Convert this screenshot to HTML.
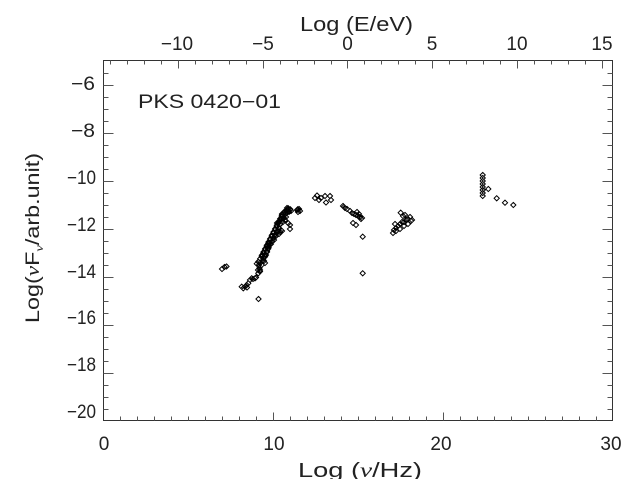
<!DOCTYPE html>
<html>
<head>
<meta charset="utf-8">
<style>
  html,body{margin:0;padding:0;background:#fff;}
  svg{display:block;}
  text{font-family:"Liberation Sans","DejaVu Sans",sans-serif;fill:#222;}
</style>
</head>
<body>
<svg id="s" width="633" height="479" viewBox="0 0 633 479" xmlns="http://www.w3.org/2000/svg">
  <rect width="633" height="479" fill="#fff"/>
  <g id="axes" stroke="#333" stroke-width="1" fill="none" shape-rendering="crispEdges">
    <rect x="103.5" y="60.5" width="509" height="360"/>
  </g>
  <g id="ticks" stroke="#555" stroke-width="1" shape-rendering="crispEdges"></g>
  <g id="pts" stroke="#000" stroke-width="1" fill="none"></g>

  <!-- left tick labels -->
  <g font-size="19" text-anchor="end">
    <text x="95" y="90" textLength="24" lengthAdjust="spacingAndGlyphs">−6</text>
    <text x="95" y="137" textLength="24" lengthAdjust="spacingAndGlyphs">−8</text>
    <text x="96" y="184" textLength="29" lengthAdjust="spacingAndGlyphs">−10</text>
    <text x="96" y="231" textLength="29" lengthAdjust="spacingAndGlyphs">−12</text>
    <text x="96" y="278" textLength="29" lengthAdjust="spacingAndGlyphs">−14</text>
    <text x="96" y="324" textLength="29" lengthAdjust="spacingAndGlyphs">−16</text>
    <text x="96" y="371" textLength="29" lengthAdjust="spacingAndGlyphs">−18</text>
    <text x="96" y="418" textLength="29" lengthAdjust="spacingAndGlyphs">−20</text>
  </g>

  <!-- bottom tick labels -->
  <g font-size="19" text-anchor="middle">
    <text x="104" y="450">0</text>
    <text x="274" y="450">10</text>
    <text x="441" y="450">20</text>
    <text x="611" y="450">30</text>
  </g>

  <!-- top tick labels -->
  <g font-size="19" text-anchor="middle">
    <text x="177" y="50">−10</text>
    <text x="263" y="50">−5</text>
    <text x="347.5" y="50">0</text>
    <text x="432" y="50">5</text>
    <text x="517" y="50">10</text>
    <text x="602" y="50">15</text>
  </g>

  <!-- axis titles -->
  <text x="300" y="31" font-size="20" textLength="113" lengthAdjust="spacingAndGlyphs">Log (E/eV)</text>
  <text x="298" y="477" font-size="20" textLength="124" lengthAdjust="spacingAndGlyphs">Log (<tspan font-style="italic" font-family="Liberation Serif">ν</tspan>/Hz)</text>
  <text x="138" y="108" font-size="19" textLength="143" lengthAdjust="spacingAndGlyphs">PKS 0420−01</text>
  <text transform="translate(39,323) rotate(-90)" x="0" y="0" font-size="19" textLength="170" lengthAdjust="spacingAndGlyphs">Log(<tspan font-style="italic" font-family="Liberation Serif">ν</tspan>F<tspan font-size="12" dy="4" font-style="italic" font-family="Liberation Serif">ν</tspan><tspan dy="-4">/arb.unit)</tspan></text>
</svg>
<script>
(function(){
  var NS="http://www.w3.org/2000/svg";
  var tg=document.getElementById("ticks");
  function line(x1,y1,x2,y2){
    var l=document.createElementNS(NS,"line");
    l.setAttribute("x1",x1);l.setAttribute("y1",y1);
    l.setAttribute("x2",x2);l.setAttribute("y2",y2);
    tg.appendChild(l);
  }
  var X0=103.5,X1=612.5,Y0=60.5,Y1=420.5;
  var sx=(X1-X0)/30;
  for(var i=1;i<30;i++){
    var x=Math.round(X0+i*sx)+0.5;
    var len=(i%10===0)?8:4;
    line(x,Y1,x,Y1-len);
  }
  for(var e=-14;e<=15;e++){
    var nu=e+14.38;
    if(nu<=0||nu>=30) continue;
    var x=Math.round(X0+nu*sx)+0.5;
    var len=(e%5===0)?8:4;
    line(x,Y0,x,Y0+len);
  }
  var sy=(Y1-Y0)/15;
  for(var k=1;k<30;k++){
    var v=-20+k*0.5;
    var y=Math.round(Y1-k*0.5*sy)+0.5;
    var major=(Math.abs(v%2)<1e-6);
    var len=major?10:5;
    line(X0,y,X0+len,y);
    line(X1,y,X1-len,y);
  }
  var P=[
   [222,269],[224.5,267],[226.5,266.5],
   [241.7,286.7],[243.3,288.3],[245,286.7],[246.7,285],[247,287.5],[248.3,283.3],[250,280],[251.7,278.3],[253,279],[255,278.3],[256,277.5],
   [258.5,299],
   [258.5,262],[259,265],[259.5,268],[260,271.5],[258,270],[258.3,273.3],[260,270],[261.7,265],[263.3,260],[265,256.7],
   [262.5,255],[263,258],[264,261],[265,263],
   [266,255],[267,252],[268,249],[269,246],[270,243],[271,244],[272,241],[273,238],[274,240],[275,237],[276,236],
   [277,233],[278,231],[279,234],[280,232],[281,230],[282,231],
   [277,223],[279,221],[280,224],[282,219],[283,222],[284,218],[285,220],[286,217],
   [282,214],[284,212],[286,213],[288,210],[289,212],[291,211],[287,208],
   [290,225],[290,229],[288.3,223.3],
   [297,210],[299,209],[300,211],[298,212],[297.7,209.3],
   [315,198],[317,195.5],[319,200],[325,196],[326,202.5],[330,196],[331,200],[321,198],
   [343,206],[344,207],[345,208],[347,209],[350,211],[352,213],[354,214],[356,215],[358,216],[360,217],[361,219],[357,212],[359,214],[362,218],[353,223],[356,225],
   [362.7,236.7],[362.7,273.3],
   [393,233],[394,230],[396,228],[398,226],[400,224],[402,222],[404,222],[406,220],[408,219],[410,217],[411,221],[396,231],[400,229],[404,226],[408,224],[400.7,212.7],[403,216],[405,215],[412,220],[395,224],
   [482.7,175],[482.7,178],[482.7,181],[482.7,184],[482.7,187],[482.7,190],[482.7,193],[482.7,196],[488.3,189],[496.7,198.3],[505,202.7],[513.3,205]
  ];
  // thick radio chain (overlapping points)
  var chain=[[258.3,261.7],[261.7,256.7],[263.3,253.3],[265,250],[266.7,246.7],[268.3,243.3],[270,240],[271.7,236.7],[273.3,233.3],[275,230],[276.7,226.7],[278.3,223.3],[280,220],[281.7,216.7],[283.3,213.3],[286.7,210],[288.3,208.3]];
  for(var c=0;c<chain.length;c++){
    P.push(chain[c]);
    P.push([chain[c][0]+2,chain[c][1]+1]);
    P.push([chain[c][0]-1.5,chain[c][1]+2]);
  }
  var pg=document.getElementById("pts");
  var d="";
  var r=2.6;
  for(var j=0;j<P.length;j++){
    var x=P[j][0],y=P[j][1];
    d+="M"+x+","+(y-r)+"L"+(x+r)+","+y+"L"+x+","+(y+r)+"L"+(x-r)+","+y+"Z";
  }
  var p=document.createElementNS(NS,"path");
  p.setAttribute("d",d);
  pg.appendChild(p);
})();
</script>
</body>
</html>
